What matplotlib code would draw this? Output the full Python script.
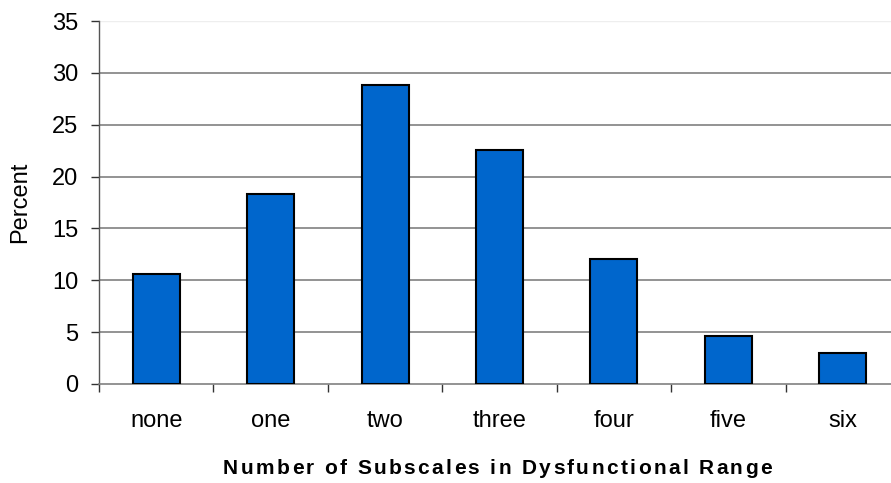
import matplotlib
matplotlib.use("Agg")
import matplotlib.pyplot as plt
from matplotlib import font_manager, ft2font
import numpy as np

categories = ["none", "one", "two", "three", "four", "five", "six"]
percent = [10.6, 18.3, 28.8, 22.6, 12.1, 4.6, 3.0]
yticks = [0, 5, 10, 15, 20, 25, 30, 35]
xlabel = "Number of Subscales in Dysfunctional Range"
ylabel = "Percent"

W, H, DPI = 891, 483, 100
plt.rcParams['font.family'] = ['Liberation Sans', 'DejaVu Sans']
fig = plt.figure(figsize=(W / DPI, H / DPI), dpi=DPI)
fig.patch.set_facecolor('white')

left_px, right_px, top_px, bot_px = 99, 900, 21, 384
ax = fig.add_axes([left_px / W, 1 - bot_px / H, (right_px - left_px) / W, (bot_px - top_px) / H])

x = np.arange(len(categories))
ax.bar(x, percent, width=0.41, color='#0066CC', edgecolor='black', linewidth=1.5, zorder=3)

ax.set_xlim(-0.5, len(categories) - 0.5)
ax.set_ylim(0, 35)
ax.set_yticks(yticks)
ax.set_yticklabels([str(v) for v in yticks], fontsize=17)
for v in yticks[1:-1]:
    ax.axhline(v, color='#808080', lw=1.2, zorder=1)
ax.axhline(35, color='#eeeeee', lw=1.0, zorder=1)

ax.set_xticks(np.arange(-0.5, len(categories), 1.0))
ax.set_xticklabels([])
ax.set_xticks(x, minor=True)
ax.set_xticklabels(categories, minor=True, fontsize=17)
ax.tick_params(axis='x', which='minor', length=0, pad=19)
ax.tick_params(axis='x', which='major', length=6, width=1, color='#333333', direction='out')
ax.tick_params(axis='y', length=6, width=1, color='#333333', direction='out', pad=9)

for s in ['top', 'right']:
    ax.spines[s].set_visible(False)
ax.spines['left'].set_color('#555555')
ax.spines['bottom'].set_color('#808080')
ax.spines['left'].set_linewidth(1.0)
ax.spines['bottom'].set_linewidth(1.2)

ax.set_ylabel(ylabel, fontsize=17)
ax.yaxis.set_label_coords((20 - left_px) / (right_px - left_px), 0.5)
ax.yaxis.label.set_verticalalignment('center')

# letter-spaced bold x label
fsize = 15
fp = font_manager.FontProperties(family='Liberation Sans', weight='bold')
ftf = ft2font.FT2Font(font_manager.findfont(fp))
ftf.set_size(fsize, DPI)
advs = []
for c in xlabel:
    g = ftf.load_char(ord(c))
    advs.append(g.linearHoriAdvance / 65536.0)
target_w = 549.0
track = (target_w - sum(advs)) / (len(xlabel) - 1)
start = 223.0
ypx = 474.0  # baseline
pos = start
for c, a in zip(xlabel, advs):
    if c != ' ':
        fig.text(pos / W, 1 - ypx / H, c, fontproperties=fp, fontsize=fsize,
                 ha='left', va='baseline', color='black')
    pos += a + track

fig.savefig('out.png', dpi=DPI, facecolor='white')
